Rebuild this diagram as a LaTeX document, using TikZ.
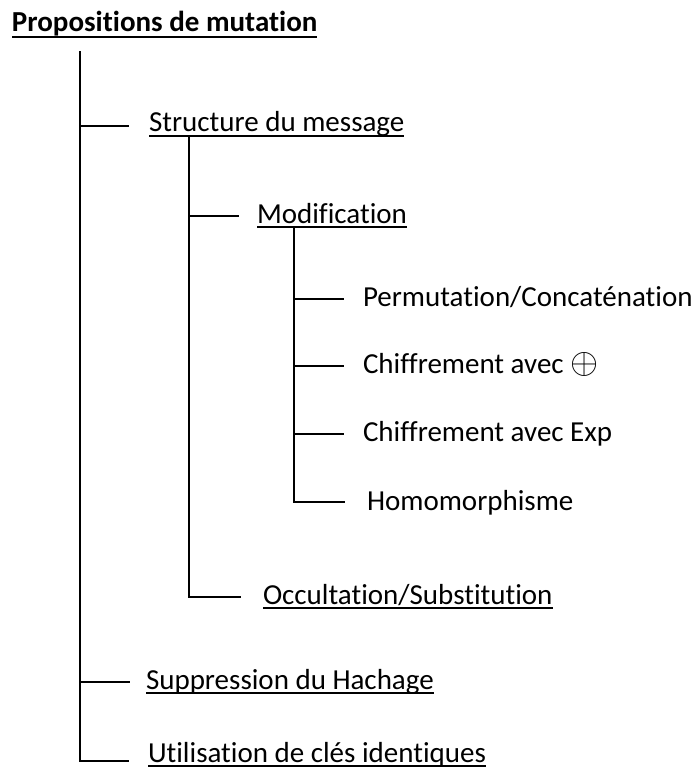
\documentclass[tikz,border=0pt]{standalone}
\usepackage{fontspec}
\setmainfont{Carlito}[Ligatures=NoCommon]
\begin{document}
\begin{tikzpicture}[x=1pt,y=-1pt,
  conn/.style={line width=1.4pt,line cap=rect},
  lbl/.style={inner sep=0pt,outer sep=0pt,anchor=base west,font=\fontsize{29}{35}\selectfont},
  ttl/.style={lbl,font=\fontsize{29}{35}\selectfont\bfseries},
  ul/.style={line width=1.6pt}]
\useasboundingbox (0,0) rectangle (699,767);
% labels
\node[ttl] (title) at (12,32) {Propositions de mutation};
\node[lbl] (S) at (149,132) {Structure du message};
\node[lbl] (M) at (257,223) {Modification};
\node[lbl] (P) at (363,306) {Permutation/Concaténation};
\node[lbl] (C1) at (363,373) {Chiffrement avec \raisebox{-0.5pt}{\scalebox{1.45}{$\oplus$}}};
\node[lbl] (C2) at (363,441) {Chiffrement avec Exp};
\node[lbl] (H) at (367,510) {Homomorphisme};
\node[lbl] (O) at (263,604) {Occultation/Substitution};
\node[lbl] (Sup) at (146,689) {Suppression du Hachage};
\node[lbl] (U) at (148,762) {Utilisation de clés identiques};
% underlines
\draw[line width=2.1pt] ([yshift=-5pt]title.base west) -- ([yshift=-5pt]title.base east);
\foreach \n in {S,M,O,Sup,U}
  \draw[ul] ([yshift=-4pt]\n.base west) -- ([yshift=-4pt]\n.base east);
% connector points
\coordinate (t1) at (80,52);
\coordinate (eS) at (128,126);
\coordinate (eSup) at (129,682);
\coordinate (eU) at (128,761);
\coordinate (t2) at (189,136);
\coordinate (eM) at (238,216);
\coordinate (eO) at (240,597);
\coordinate (t3) at (294,227);
\coordinate (eP) at (343,299);
\coordinate (eC1) at (343,366);
\coordinate (eC2) at (343,434);
\coordinate (eH) at (344,502);
% tree
\draw[conn] (t1) |- (eU);
\draw[conn] (t1 |- eS) -- (eS);
\draw[conn] (t1 |- eSup) -- (eSup);
\draw[conn] (t2) |- (eO);
\draw[conn] (t2 |- eM) -- (eM);
\draw[conn] (t3) |- (eH);
\draw[conn] (t3 |- eP) -- (eP);
\draw[conn] (t3 |- eC1) -- (eC1);
\draw[conn] (t3 |- eC2) -- (eC2);
\end{tikzpicture}
\end{document}
